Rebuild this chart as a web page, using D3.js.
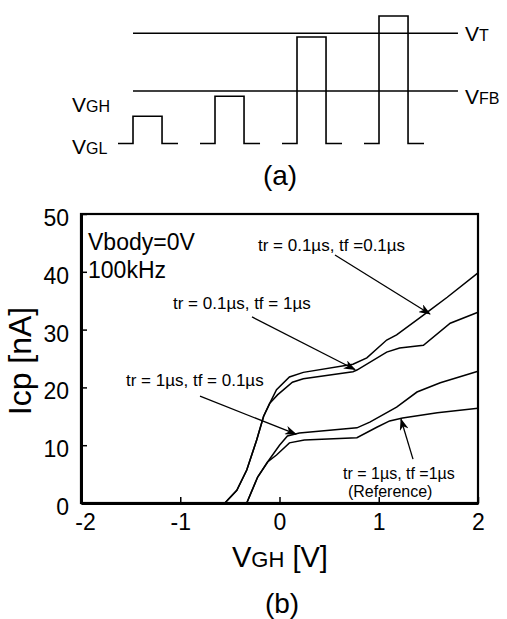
<!DOCTYPE html>
<html>
<head>
<meta charset="utf-8">
<script src="https://cdn.jsdelivr.net/npm/d3@7"></script>
<style>
  body { margin: 0; background: #fff; }
  svg { display: block; font-family: "Liberation Sans", Arial, Helvetica, sans-serif; }
</style>
</head>
<body>
<div id="chart"></div>
<script>
// frame size
const FRAME_WIDTH = 507;
const FRAME_HEIGHT = 619;
const MARGINS = {left: 81, right: 29, top: 214, bottom: 116};

const VIS_WIDTH = FRAME_WIDTH - MARGINS.left - MARGINS.right;
const VIS_HEIGHT = FRAME_HEIGHT - MARGINS.top - MARGINS.bottom;

// (a) pulse schematic: pulse slots and amplitudes (VFB = 1)
const PULSE_SLOT = [0, 1, 2, 3];
const PULSE_AMP = [0.52, 0.9, 2.03, 2.43];
const PULSE_EDGES = [0, 0.183, 0.537, 0.732];
const LEVEL_FB = 1.0;
const LEVEL_T = 2.1;

// (b) axes
const X_TICKS = [-2, -1, 0, 1, 2];
const Y_TICKS = [0, 10, 20, 30, 40, 50];

// (b) Icp [nA] vs VGH [V]
const CURVE_A = [[-0.55, 0], [-0.43, 2.2], [-0.33, 5.7], [-0.23, 10.9], [-0.16, 15.0], [-0.1, 17.2],
                 [-0.03, 19.6], [0.1, 21.8], [0.24, 22.6], [0.74, 24.0], [0.88, 25.1], [1.08, 28.2],
                 [1.18, 29.1], [1.45, 32.5], [1.52, 33.4], [1.69, 35.6], [2.0, 39.8]];
const CURVE_B = [[-0.55, 0], [-0.43, 2.2], [-0.33, 5.7], [-0.23, 10.9], [-0.16, 15.0], [-0.1, 17.2],
                 [-0.02, 18.7], [0.13, 20.9], [0.24, 21.5], [0.74, 22.7], [0.78, 23.0], [1.08, 26.1],
                 [1.21, 26.8], [1.45, 27.3], [1.72, 31.1], [2.0, 33.0]];
const CURVE_C = [[-0.33, 0], [-0.22, 4.5], [-0.12, 7.1], [0.0, 10.0], [0.08, 11.6], [0.2, 12.1],
                 [0.78, 13.0], [0.91, 14.0], [1.18, 16.6], [1.385, 19.2], [1.62, 20.8], [2.0, 22.8]];
const CURVE_D = [[-0.33, 0], [-0.22, 4.5], [-0.12, 7.1], [-0.03, 8.3], [0.1, 10.4], [0.25, 10.9],
                 [0.78, 11.3], [0.98, 13.1], [1.11, 14.2], [1.24, 14.7], [1.59, 15.6], [2.0, 16.4]];

// annotations (data coordinates)
const NOTE_TEXT = ["tr = 0.1\u00b5s, tf =0.1\u00b5s", "tr = 0.1\u00b5s, tf = 1\u00b5s",
                   "tr = 1\u00b5s, tf = 0.1\u00b5s", "tr = 1\u00b5s, tf =1\u00b5s", "(Reference)"];
const NOTE_AT = [[-0.217, 43.6], [-1.073, 33.6], [-1.547, 20.2], [0.64, 4.2], [0.69, 1.0]];
const NOTE_SIZE = ["17px", "17px", "17px", "16px", "16px"];
const ARROW_FROM = [[0.559, 42.9], [-0.277, 32.2], [-0.801, 18.5], [1.345, 7.6]];
const ARROW_TO = [[1.516, 32.7], [0.76, 23.1], [0.166, 11.9], [1.224, 14.5]];

const FRAME = d3.select("#chart")
                .append("svg")
                  .attr("width", FRAME_WIDTH)
                  .attr("height", FRAME_HEIGHT);

// arrow head
FRAME.append("defs")
      .append("marker")
        .attr("id", "head")
        .attr("markerUnits", "userSpaceOnUse")
        .attr("viewBox", "0 0 12 9")
        .attr("refX", 11)
        .attr("refY", 4.5)
        .attr("markerWidth", 12)
        .attr("markerHeight", 9)
        .attr("orient", "auto")
      .append("path")
        .attr("d", "M0,0 L12,4.5 L0,9 L3.5,4.5 Z")
        .attr("fill", "#000");

// ---------- (a) ----------
const XA = d3.scaleLinear().domain([0, 1]).range([118, 200]);
const YA = d3.scaleLinear().domain([0, LEVEL_FB]).range([143.5, 91]);

const PANEL_A = FRAME.append("g");

// reference levels
[LEVEL_T, LEVEL_FB].forEach((lv) => {
  PANEL_A.append("line")
          .attr("x1", XA(0.183)).attr("x2", XA(4.146))
          .attr("y1", YA(lv)).attr("y2", YA(lv))
          .attr("stroke", "#000").attr("stroke-width", 1.6);
});

// pulses
const pulseLine = d3.line().x((d) => XA(d[0])).y((d) => YA(d[1]));
PULSE_SLOT.forEach((s, i) => {
  const e = PULSE_EDGES;
  const pts = [[s + e[0], 0], [s + e[1], 0], [s + e[1], PULSE_AMP[i]],
               [s + e[2], PULSE_AMP[i]], [s + e[2], 0], [s + e[3], 0]];
  PANEL_A.append("path")
          .attr("d", pulseLine(pts))
          .attr("fill", "none")
          .attr("stroke", "#000")
          .attr("stroke-width", 1.6);
});

// level labels with subscripts
function subLabel(g, x, y, main, sub, big, small) {
  const t = g.append("text").attr("x", x).attr("y", y);
  t.append("tspan").attr("font-size", big).text(main);
  t.append("tspan").attr("font-size", small).text(sub);
  return t;
}
subLabel(PANEL_A, 72, 112, "V", "GH", "21px", "16px");
subLabel(PANEL_A, 72, 154, "V", "GL", "21px", "16px");
subLabel(PANEL_A, 465, 41, "V", "T", "21px", "16px");
subLabel(PANEL_A, 465, 104, "V", "FB", "21px", "16px");

PANEL_A.append("text")
        .attr("x", 280).attr("y", 185)
        .attr("text-anchor", "middle")
        .attr("font-size", "28px")
        .text("(a)");

// ---------- (b) ----------
const X_SCALE = d3.scaleLinear().domain([-2, 2]).range([0, VIS_WIDTH]);
const Y_SCALE = d3.scaleLinear().domain([0, 50]).range([VIS_HEIGHT, 0]);

const PLOT = FRAME.append("g")
                  .attr("transform", "translate(" + MARGINS.left + "," + MARGINS.top + ")");

// box
PLOT.append("rect")
      .attr("width", VIS_WIDTH)
      .attr("height", VIS_HEIGHT)
      .attr("fill", "none")
      .attr("stroke", "#000")
      .attr("stroke-width", 2.2);

// x-axis, ticks inside
const XAXIS = PLOT.append("g")
                  .attr("transform", "translate(0," + VIS_HEIGHT + ")")
                  .call(d3.axisBottom(X_SCALE).tickValues(X_TICKS).tickFormat((d) => String(d))
                          .tickSize(-6).tickSizeOuter(0).tickPadding(11));

// y-axis, ticks inside
const YAXIS = PLOT.append("g")
                  .call(d3.axisLeft(Y_SCALE).tickValues(Y_TICKS).tickFormat((d) => String(d))
                          .tickSize(-6).tickSizeOuter(0).tickPadding(12));

[XAXIS, YAXIS].forEach((ax) => {
  ax.attr("font-family", null).attr("font-size", null);
  ax.select(".domain").attr("stroke-width", 3);
  ax.selectAll(".tick line").attr("stroke-width", 1.5);
  ax.selectAll(".tick text").attr("font-size", "23px").attr("fill", "#000");
});
YAXIS.selectAll(".tick text").attr("dy", "0.5em");
XAXIS.selectAll(".tick text").filter((d) => d === -2).attr("dx", "4px");

// curves
const LINE = d3.line()
                .x((d) => X_SCALE(d[0]))
                .y((d) => Y_SCALE(d[1]));

PLOT.selectAll(".curve")
      .data([CURVE_A, CURVE_B, CURVE_C, CURVE_D])
      .enter()
      .append("path")
        .attr("class", "curve")
        .attr("d", LINE)
        .attr("fill", "none")
        .attr("stroke", "#000")
        .attr("stroke-width", 1.5);

// arrows
PLOT.selectAll(".arrow")
      .data(ARROW_FROM)
      .enter()
      .append("line")
        .attr("class", "arrow")
        .attr("x1", (d) => X_SCALE(d[0]))
        .attr("y1", (d) => Y_SCALE(d[1]))
        .attr("x2", (d, i) => X_SCALE(ARROW_TO[i][0]))
        .attr("y2", (d, i) => Y_SCALE(ARROW_TO[i][1]))
        .attr("stroke", "#000")
        .attr("stroke-width", 1.3)
        .attr("marker-end", "url(#head)");

// annotation labels
PLOT.selectAll(".note")
      .data(NOTE_TEXT)
      .enter()
      .append("text")
        .attr("class", "note")
        .attr("x", (d, i) => X_SCALE(NOTE_AT[i][0]))
        .attr("y", (d, i) => Y_SCALE(NOTE_AT[i][1]))
        .attr("font-family", "'Liberation Sans', Arial, sans-serif")
        .attr("font-size", (d, i) => NOTE_SIZE[i])
        .text((d) => d);

PLOT.append("text")
      .attr("x", X_SCALE(-1.929))
      .attr("y", Y_SCALE(43.8))
      .attr("font-size", "23px")
      .text("Vbody=0V");

PLOT.append("text")
      .attr("x", X_SCALE(-1.929))
      .attr("y", Y_SCALE(38.9))
      .attr("font-size", "23px")
      .text("100kHz");

// axis titles
const XT = FRAME.append("text").attr("x", 232).attr("y", 567);
XT.append("tspan").attr("font-size", "29px").text("V");
XT.append("tspan").attr("font-size", "22px").text("GH");
XT.append("tspan").attr("font-size", "29px").text(" [V]");

FRAME.append("text")
      .attr("transform", "translate(31,361) rotate(-90)")
      .attr("text-anchor", "middle")
      .attr("font-size", "32px")
      .text("Icp [nA]");

FRAME.append("text")
      .attr("x", 282).attr("y", 613)
      .attr("text-anchor", "middle")
      .attr("font-size", "28px")
      .text("(b)");
</script>
</body>
</html>
